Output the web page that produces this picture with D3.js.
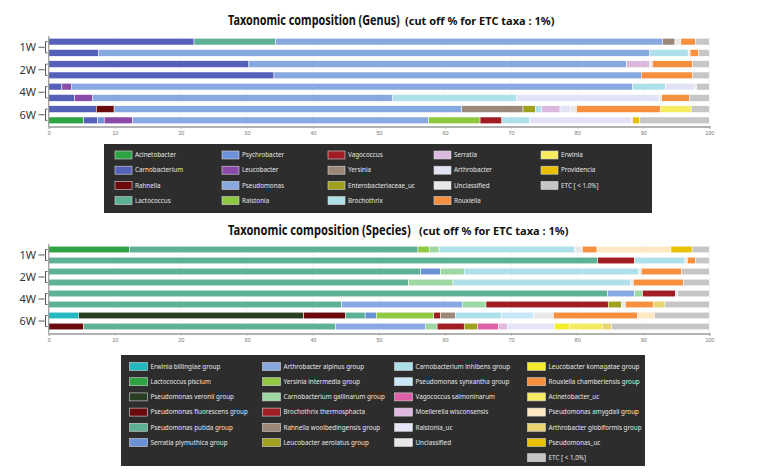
<!DOCTYPE html>
<html><head><meta charset="utf-8">
<script src="https://cdn.jsdelivr.net/npm/d3@7"></script>
<style>html,body{margin:0;padding:0;background:#fff;}svg{display:block;}</style>
</head><body>
<script>
// ---------- DATA ----------
const samples = ["1W-a","1W-b","2W-a","2W-b","4W-a","4W-b","6W-a","6W-b"];
const groups = ["1W","2W","4W","6W"];
const ticks = [0,10,20,30,40,50,60,70,80,90,100];

const genusNames = ["Acinetobacter","Carnobacterium","Rahnella","Lactococcus","Psychrobacter","Leucobacter","Pseudomonas","Ralstonia","Vagococcus","Yersinia","Enterobacteriaceae_uc","Brochothrix","Serratia","Arthrobacter","Unclassified","Rouxiella","Erwinia","Providencia","ETC [ < 1.0%]"];
const genusColors = ["#2ea343","#5560b8","#6b0a0d","#5eb195","#6c92da","#8a4aa8","#87a8e0","#8dc63f","#a11d24","#9c8878","#a0a11f","#aee0ea","#dbb9de","#e3e3f6","#e8e8e8","#f68f3e","#f7eb5e","#e8c000","#c6c6c6"];
//           Aci  Car  Rah  Lac  Psy  Leu  Pse  Ral  Vag  Yer  Ent  Bro  Ser  Art  Unc  Rou  Erw  Pro  ETC
const g1Wa = [0, 22.0,0,  12.3,0,   0,  58.6,0,   0,  1.9, 0,   0,   0,   0,   0.9, 2.2, 0,   0,   2.1];
const g1Wb = [0, 7.5, 0,  0,   0,   0,  83.5,0,   0,  0,   0,   5.8, 0,   0,   0.3, 1.3, 0,   0,   1.6];
const g2Wa = [0, 30.3,0,  0,   0,   0,  57.2,0,   0,  0,   0,   0,   3.5, 0,   0.4, 6.1, 0,   0,   2.5];
const g2Wb = [0, 34.1,0,  0,   0,   0,  55.6,0,   0,  0,   0,   0,   0,   0,   0,   7.8, 0,   0,   2.5];
const g4Wa = [0, 2.0, 0,  0,   0,   1.5,84.9,0,   0,  0,   0,   5.0, 0,   4.4, 0.3, 0,   0,   0,   1.9];
const g4Wb = [0, 3.9, 0,  0,   0,   2.7,45.4,0,   0,  0,   0,   18.8,0,   21.6,0.4, 4.2, 0,   0,   3.0];
const g6Wa = [0, 7.2, 2.7,0,   0,   0,  52.6,0,   0,  9.3, 1.9, 0.9, 2.8, 1.6, 0.9, 12.7,4.7, 0,   2.7];
const g6Wb = [5.3,2.1,0,  0,   1.0, 4.3,44.8,7.8, 3.3,0,   0,   4.2, 0,   15.4,0.2, 0,   0,   1.0, 10.6];

const speciesNames = ["Erwinia billingiae group","Lactococcus piscium","Pseudomonas veronii group","Pseudomonas fluorescens group","Pseudomonas putida group","Serratia plymuthica group","Arthrobacter alpinus group","Yersinia intermedia group","Carnobacterium gallinarum group","Brochothrix thermosphacta","Rahnella woolbedingensis group","Leucobacter aerolatus group","Carnobacterium inhibens group","Pseudomonas synxantha group","Vagococcus salmoninarum","Moellerella wisconsensis","Ralstonia_uc","Unclassified","Leucobacter komagatae group","Rouxiella chamberiensis group","Acinetobacter_uc","Pseudomonas amygdali group","Arthrobacter globiformis group","Pseudomonas_uc","ETC [ < 1.0%]"];
const speciesColors = ["#22b9c1","#2ea343","#2a3f22","#6b0a0d","#5eb195","#6a92d8","#87a8e0","#8fc842","#9dd7a1","#a11d24","#9c8878","#a0a11f","#aee0ea","#c8e8f8","#df5fa8","#e0b9e0","#e6e6f8","#e8e8e8","#f5ec2c","#f68f3e","#f5ea62","#fde8c2","#e8d472","#e8c000","#c6c6c6"];
//           Erw  Lac  Ver  Flu  Put  Ser  Alp  Yer  CGa  Bro  Rah  LAe  CIn  Syn  Vag  Moe  Ral  Unc  LKo  Rou  AUc  Amy  Glo  PUc  ETC
const s1Wa = [0,  12.2,0,   0,   43.7,0,   0,   1.7, 1.5, 0,   0,   0,   20.5,0,   0,   0,   0,   1.2, 0,   2.2, 0,   11.2,0,   3.2, 2.6];
const s1Wb = [0,  0,   0,   0,   83.1,0,   0,   0,   0,   5.6, 0,   0,   7.6, 0,   0,   0,   0,   0.4, 0,   1.2, 0,   0,   0,   0,   2.1];
const s2Wa = [0,  0,   0,   0,   56.3,3.0, 0,   0,   3.6, 0,   0,   0,   26.4,0,   0,   0,   0,   0.4, 0,   6.1, 0,   0,   0,   0,   4.2];
const s2Wb = [0,  0,   0,   0,   54.5,0,   0,   0,   6.7, 0,   0,   0,   26.9,0,   0,   0,   0,   0.4, 0,   7.6, 0,   0,   0,   0,   3.9];
const s4Wa = [0,  0,   0,   0,   84.6,0,   4.1, 0,   1.2, 5.0, 0,   0,   0,   0,   0,   0,   0,   0.3, 0,   0,   0,   0,   0,   0,   4.8];
const s4Wb = [0,  0,   0,   0,   44.3,0,   18.3,0,   3.6, 18.5,0,   2.0, 0,   0,   0,   0,   0,   0.6, 0,   4.2, 0,   0,   1.8, 0,   6.7];
const s6Wa = [4.5,0,   34.1,6.3, 3.0, 1.7, 0,   8.7, 0,   1.0, 2.3, 0,   6.9, 4.9, 0,   0,   0,   3.0, 0,   12.7,0,   2.6, 0,   0,   8.3];
const s6Wb = [0,  0,   0,   5.3, 38.1,0,   13.6,0,   1.8, 4.1, 0,   2.0, 0,   0,   3.2, 1.3, 7.2, 0,   2.2, 0,   5.0, 0,   1.4, 0,   14.8];

const genusTable = [g1Wa,g1Wb,g2Wa,g2Wb,g4Wa,g4Wb,g6Wa,g6Wb];
const speciesTable = [s1Wa,s1Wb,s2Wa,s2Wb,s4Wa,s4Wb,s6Wa,s6Wb];

// ---------- DRAW ----------
const W = 765, H = 472;
const svg = d3.select("body").append("svg").attr("width", W).attr("height", H)
  .style("font-family", "'Noto Sans', 'DejaVu Sans', sans-serif");

const x = d3.scaleLinear().domain([0, 100]).range([48.7, 709.3]);

// text horizontally squeezed to a target width (narrow title font of the original)
function fitText(g, tx, ty, size, target, str) {
  const t = g.append("text").attr("fill", "#111").attr("font-weight", "bold")
    .attr("font-size", size).text(str);
  const w = t.node().getComputedTextLength();
  const k = Math.min(1, target / w);
  t.attr("transform", `translate(${tx},${ty}) scale(${k},1)`);
}

function drawPanel(cfg) {
  const { table, names, colors, top, bottom, axisY, titleY, titleMain, titleMainLen, subX, titleSub, titleSubLen } = cfg;
  const g = svg.append("g");
  const y = d3.scaleBand().domain(samples).range([top, bottom]).paddingInner(0.4).paddingOuter(0.2);

  // title
  fitText(g, 228, titleY, 13.5, titleMainLen, titleMain);
  fitText(g, subX, titleY, 11, titleSubLen, titleSub);

  // grid
  g.append("g").selectAll("line").data(ticks.slice(1)).join("line")
    .attr("x1", d => x(d)).attr("x2", d => x(d)).attr("y1", top).attr("y2", axisY)
    .attr("stroke", "#ececec").attr("stroke-width", 0.6);

  // stacked bars
  const rows = table.map((vals, i) => {
    const o = { sample: samples[i] };
    names.forEach((n, j) => o[n] = vals[j]);
    return o;
  });
  const stack = d3.stack().keys(names)(rows);
  const color = d3.scaleOrdinal().domain(names).range(colors);
  g.append("g").selectAll("g").data(stack).join("g")
    .attr("fill", d => color(d.key))
    .selectAll("rect").data(d => d.filter(s => s[1] - s[0] > 0)).join("rect")
    .attr("x", d => x(d[0])).attr("width", d => x(d[1]) - x(d[0]))
    .attr("y", d => y(d.data.sample)).attr("height", y.bandwidth())
    .attr("stroke", "#fff").attr("stroke-width", 0.5);

  // axes
  const xAxis = d3.axisBottom(x).tickValues(ticks).tickSize(2).tickPadding(3);
  const ax = g.append("g").attr("transform", `translate(0,${axisY})`).call(xAxis);
  ax.select(".domain").attr("stroke", "#999").attr("stroke-width", 1.5);
  ax.selectAll(".tick line").attr("stroke", "#aaa");
  ax.selectAll(".tick text").attr("font-size", 5.5).attr("fill", "#777");
  g.append("line").attr("x1", x(0)).attr("x2", x(0)).attr("y1", top).attr("y2", axisY)
    .attr("stroke", "#999").attr("stroke-width", 1.2);

  // group labels with brackets
  groups.forEach((gr, k) => {
    const ya = y(samples[2 * k]) + y.bandwidth() / 2;
    const yb = y(samples[2 * k + 1]) + y.bandwidth() / 2;
    const ym = (ya + yb) / 2;
    g.append("text").attr("x", 36).attr("y", ym).attr("dy", "0.35em").attr("text-anchor", "end")
      .attr("font-size", 11).attr("fill", "#333").text(gr);
    g.append("path").attr("d", `M38.5,${ym}H44.5 M47.5,${ya}H45.5V${yb}H47.5`)
      .attr("fill", "none").attr("stroke", "#555").attr("stroke-width", 1);
  });
}

drawPanel({ table: genusTable, names: genusNames, colors: genusColors, top: 36, bottom: 126, axisY: 126.5, titleY: 25,
  titleMain: "Taxonomic composition (Genus)", titleMainLen: 172, subX: 405, titleSub: "(cut off % for ETC taxa : 1%)", titleSubLen: 153 });
drawPanel({ table: speciesTable, names: speciesNames, colors: speciesColors, top: 244, bottom: 332, axisY: 333.5, titleY: 235,
  titleMain: "Taxonomic composition (Species)", titleMainLen: 183, subX: 419, titleSub: "(cut off % for ETC taxa : 1%)", titleSubLen: 156 });

// ---------- LEGENDS ----------
function drawLegend(cfg) {
  const { names, colors, bx, by, bw, bh, colX, rowY0, rowStep, colCounts, sw } = cfg;
  const g = svg.append("g");
  g.append("rect").attr("x", bx).attr("y", by).attr("width", bw).attr("height", bh).attr("fill", "#2d2d2d");
  let idx = 0;
  colCounts.forEach((cnt, c) => {
    for (let r = 0; r < cnt; r++, idx++) {
      const cx = colX[c], cy = rowY0 + r * rowStep;
      g.append("rect").attr("x", cx).attr("y", cy - 4).attr("width", sw).attr("height", 8)
        .attr("fill", colors[idx]).attr("stroke", "#d8d8d8").attr("stroke-width", 0.6);
      g.append("text").attr("x", cx + sw + 3).attr("y", cy).attr("dy", "0.35em")
        .attr("font-size", 6.3).attr("fill", "#e6e6e6").text(names[idx]);
    }
  });
}
drawLegend({ names: genusNames, colors: genusColors, bx: 104, by: 144, bw: 548, bh: 69,
  colX: [115, 222, 328, 434, 541], rowY0: 155, rowStep: 15.2, colCounts: [4, 4, 4, 4, 3], sw: 17 });
drawLegend({ names: speciesNames, colors: speciesColors, bx: 121, by: 355, bw: 524, bh: 111,
  colX: [129.5, 262.5, 394.5, 527.5], rowY0: 366.5, rowStep: 15.2, colCounts: [6, 6, 6, 7], sw: 18 });
</script>
</body></html>
